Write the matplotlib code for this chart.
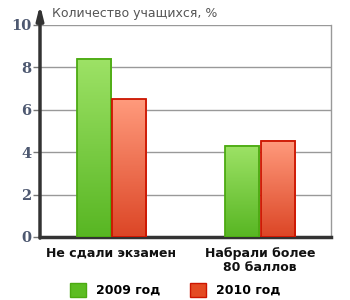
import matplotlib
matplotlib.use("Agg")
import matplotlib.pyplot as plt
import numpy as np
from matplotlib.patches import Patch
from matplotlib.colors import LinearSegmentedColormap

categories = ["Не сдали экзамен", "Набрали более\n80 баллов"]
series_names = ["2009 год", "2010 год"]
values_2009 = [8.4, 4.3]
values_2010 = [6.5, 4.55]
yticks = [0, 2, 4, 6, 8, 10]
ylabel = "Количество учащихся, %"

fig = plt.figure(figsize=(3.5, 3.0), dpi=100)
ax = fig.add_axes([40/350, 63/300, 291/350, 212/300])

x = np.arange(len(categories))
w = 0.229
off = 0.118

grads = [("#9de266", "#58b623", "#4caa12"), ("#ff9a7c", "#dc4626", "#cc1500")]
for si, vals in enumerate([values_2009, values_2010]):
    top_c, bot_c, edge_c = grads[si]
    cmap = LinearSegmentedColormap.from_list("g", [bot_c, top_c])
    for xi, v in zip(x, vals):
        cx = xi + (-off if si == 0 else off)
        ax.bar(cx, v, width=w, color="none", edgecolor=edge_c, linewidth=1.3, zorder=4)
        grad = np.linspace(0, 1, 100).reshape(-1, 1)
        ax.imshow(grad, cmap=cmap, origin="lower", aspect="auto",
                  extent=(cx - w/2, cx + w/2, 0, v), zorder=3)

ax.set_xlim(-0.481, 1.478)
ax.set_ylim(0, 10)
ax.set_yticks(yticks)
ax.set_yticklabels([str(t) for t in yticks], fontfamily="DejaVu Serif",
                   fontweight="bold", fontsize=10.5, color="#4d5870")
ax.set_xticks(x)
ax.set_xticklabels(categories, fontsize=9, fontweight="bold", color="#111111",
                   linespacing=1.1)
ax.tick_params(axis="x", length=0, pad=7)
ax.tick_params(axis="y", length=5, width=1, color="#777777", pad=1)
ax.yaxis.grid(True, color="#999999", linewidth=1, zorder=0)
ax.set_axisbelow(True)

ax.spines["top"].set_visible(False)
ax.spines["right"].set_color("#999999")
ax.spines["right"].set_linewidth(1)
ax.spines["bottom"].set_color("#333333")
ax.spines["bottom"].set_linewidth(2.5)
ax.spines["left"].set_visible(False)

ax.annotate("", xy=(0, 1.095), xycoords="axes fraction", xytext=(0, -0.005),
            textcoords="axes fraction",
            arrowprops=dict(arrowstyle="-|>,head_width=0.2,head_length=0.8",
                            color="#333333", lw=2.5, shrinkA=0, shrinkB=0),
            annotation_clip=False, zorder=6)

fig.text(52/350, 1 - 13/300, ylabel, fontsize=9, color="#555555",
         ha="left", va="center")

handles = [Patch(facecolor="#5cbd22", edgecolor="#4caa12", linewidth=1),
           Patch(facecolor="#e44a22", edgecolor="#cc1500", linewidth=1)]
fig.legend(handles, series_names, loc="center", bbox_to_anchor=(175/350, 1 - 290/300),
           ncol=2, frameon=False, handlelength=1.28, handleheight=1.28,
           handletextpad=0.8, columnspacing=2.35,
           prop={"size": 9, "weight": "bold"})

fig.savefig("out.png", dpi=100)
